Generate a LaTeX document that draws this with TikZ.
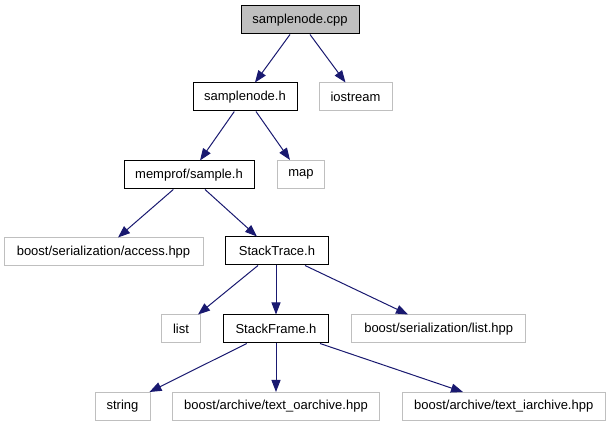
\documentclass[tikz,border=0pt]{standalone}
\usepackage{fontspec}
\setmainfont{Liberation Sans}
\usetikzlibrary{arrows.meta,calc}
\definecolor{edgeblue}{HTML}{191970}
\definecolor{lightgraybox}{HTML}{BFBFBF}
\begin{document}
\begin{tikzpicture}[x=1pt,y=-1pt,
  box/.style={draw=black,line width=1pt,minimum height=28pt,inner sep=0pt,
    font=\fontsize{13}{15}\selectfont,anchor=center},
  rootbox/.style={box,fill=lightgraybox},
  extbox/.style={box,draw=lightgraybox},
  dep/.style={draw=edgeblue,line width=1pt,-{Triangle[length=12pt,width=9pt]}}]
\useasboundingbox (0,0) rectangle (611,427);
% nodes
\node[rootbox,minimum width=118pt] (cpp) at (300,20) {samplenode.cpp};
\node[box,minimum width=104pt] (hdr) at (245,97) {samplenode.h};
\node[extbox,minimum width=73pt] (ios) at (355.5,97) {iostream};
\node[box,minimum width=130pt] (mem) at (189,175) {memprof/sample.h};
\node[extbox,minimum width=47pt] (map) at (301,174.5) {map};
\node[extbox,minimum width=199pt] (acc) at (103.5,252) {boost/serialization/access.hpp};
\node[box,minimum width=103pt] (st) at (277,251) {StackTrace.h};
\node[extbox,minimum width=39pt] (lst) at (181,329) {list};
\node[box,minimum width=105pt] (sf) at (276,329) {StackFrame.h};
\node[extbox,minimum width=174pt] (lhpp) at (438.7,329) {boost/serialization/list.hpp};
\node[extbox,minimum width=55pt] (str) at (122.5,406.5) {string};
\node[extbox,minimum width=207pt] (oar) at (276,406.5) {boost/archive/text\_oarchive.hpp};
\node[extbox,minimum width=203pt] (iar) at (503.7,406.5) {boost/archive/text\_iarchive.hpp};
% edges
\draw[dep] ($(cpp.south)+(-10,0)$) -- ($(hdr.north)+(10,0)$);
\draw[dep] ($(cpp.south)+(10,0)$) -- ($(ios.north)+(-10,0)$);
\draw[dep] ($(hdr.south)+(-10.7,0)$) -- ($(mem.north)+(11,0)$);
\draw[dep] ($(hdr.south)+(11,0)$) -- ($(map.north)+(-11,0)$);
\draw[dep] ($(mem.south)+(-15.7,0)$) -- ($(acc.north)+(14.5,0)$);
\draw[dep] ($(mem.south)+(16,0)$) -- ($(st.north)+(-20,0)$);
\draw[dep] ($(st.south)+(-19,0)$) -- ($(lst.north)+(17,0)$);
\draw[dep] ($(st.south)+(-1,0)$) -- (sf.north);
\draw[dep] ($(st.south)+(28,0)$) -- ($(lhpp.north)+(-30.7,0)$);
\draw[dep] ($(sf.south)+(-29.3,0)$) -- ($(str.north)+(27,0)$);
\draw[dep] (sf.south) -- (oar.north);
\draw[dep] ($(sf.south)+(44,0)$) -- ($(iar.north)+(-40.7,0)$);
\end{tikzpicture}
\end{document}
